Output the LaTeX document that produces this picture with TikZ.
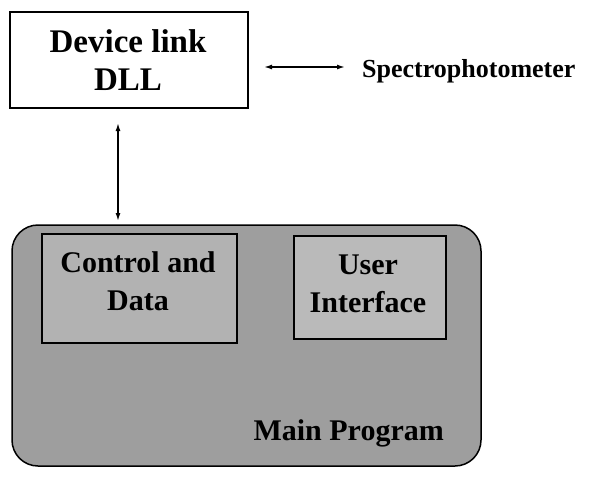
\documentclass[tikz,border=0pt]{standalone}
\usepackage{fontspec}
\setmainfont{Liberation Serif}
\usetikzlibrary{arrows.meta}
\begin{document}
\begin{tikzpicture}[x=1pt,y=-1pt,
  lbl/.style={font=\bfseries\fontsize{30}{38}\selectfont, align=center, inner sep=0pt},
  box/.style={draw=black, line width=2pt},
  conn/.style={{Latex[length=8pt,width=5pt]}-{Latex[length=8pt,width=5pt]}, line width=1.5pt}]
\useasboundingbox (0,0) rectangle (597,479);
% main program
\draw[box, line width=1.5pt, fill=black!38, rounded corners=26pt] (12,225) rectangle (481,466);
\node[box, fill=black!30, minimum width=195pt, minimum height=109pt, anchor=north west, inner sep=0pt] (cd) at (41,233) {};
\node[lbl, align=center] at (138,281) {Control and\\Data};
\node[box, fill=black!27, minimum width=152pt, minimum height=103pt, anchor=north west, inner sep=0pt] (ui) at (293,235) {};
\node[lbl] at (368,284) {User\\Interface};
\node[lbl, anchor=east] (mp) at (444,433) {Main Program};
% device link
\node[box, fill=white, minimum width=238pt, minimum height=96pt, anchor=north west, inner sep=0pt] (dll) at (9,11) {};
\node[lbl, font=\bfseries\fontsize{33}{38}\selectfont] at (128,60) {Device link\\DLL};
\node[lbl, font=\bfseries\fontsize{26}{28}\selectfont, anchor=west] (sp) at (362,71) {Spectrophotometer};
\coordinate (ha) at (264,67);
\coordinate (hb) at (345,67);
\draw[conn] (ha) -- (hb);
\coordinate (va) at (118,123);
\coordinate (vb) at (118,221);
\draw[conn] (va) -- (vb);
\end{tikzpicture}
\end{document}
